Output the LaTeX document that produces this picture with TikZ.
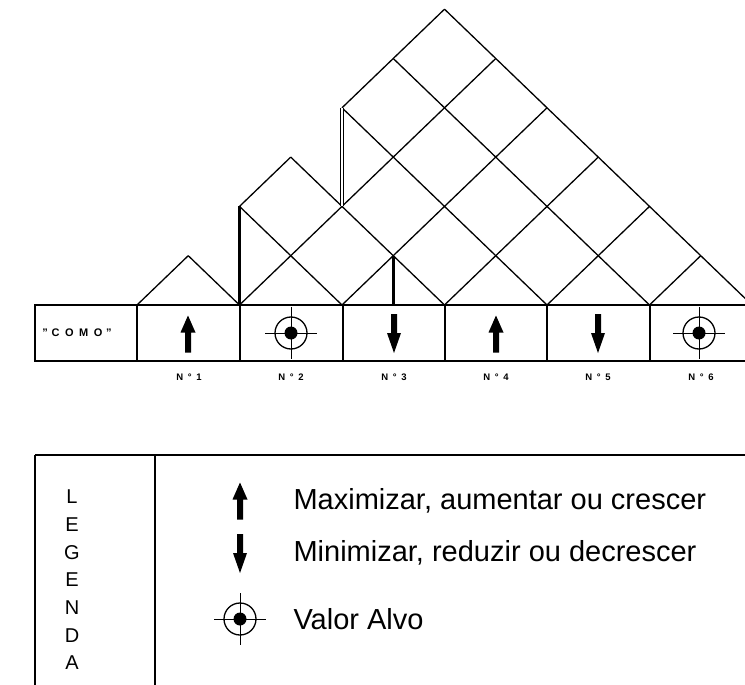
\documentclass[tikz,border=0pt]{standalone}
\usepackage{fontspec}
\setmainfont{Liberation Sans}
\usetikzlibrary{positioning}
\tikzset{
    % Line styles
    roof line/.style={line width=1.3pt},
    cut line/.style={line width=2.8pt},
    split line/.style={double, double distance=1.4pt, line width=0.9pt},
    table line/.style={line width=1.5pt},
    % Text styles
    como text/.style={font=\bfseries\fontsize{11}{13}\selectfont},
    num label/.style={font=\bfseries\fontsize{9.5}{11}\selectfont},
    legend title/.style={align=center, font=\fontsize{20}{27.7}\selectfont},
    legend text/.style={anchor=west, font=\fontsize{29}{32}\selectfont},
    % Symbols
    up mark/.pic={
        \fill (-3,18.5) -- (3,18.5) -- (3,-1.5) -- (7.5,-1.5) -- (0,-18.5)
            -- (-7.5,-1.5) -- (-3,-1.5) -- cycle;
    },
    down mark/.pic={
        \fill (-3,-19) -- (3,-19) -- (3,0) -- (7,0) -- (0,20)
            -- (-7,0) -- (-3,0) -- cycle;
    },
    target mark/.pic={
        \draw[line width=1.3pt] (0,0) circle (16);
        \fill (0,0) circle (6.5);
        \draw[line width=1pt] (-26,0) -- (26,0) (0,-26) -- (0,26);
    }
}

\begin{document}
\begin{tikzpicture}[x=1pt, y=-1pt]
    \useasboundingbox (0,0) rectangle (745,685);

    % Roof
    \begin{scope}[shift={(137,305)}, x=51.25pt, y=49.3pt]
        \foreach \a/\b/\c/\d in {0/0/1/1, 2/0/7/5, 4/0/8/4, 6/0/9/3,
                8/0/10/2, 10/0/11/1, 2/2/3/3, 4/4/6/6,
                1/1/2/0, 2/2/4/0, 3/3/6/0, 4/4/8/0, 5/5/10/0, 6/6/12/0}
            \draw[roof line] (\a,\b) -- (\c,\d);
        \draw[cut line] (2,0) -- (2,2);
        \draw[cut line] (5,0) -- (5,1);
        \draw[split line] (4,2) -- (4,4);
    \end{scope}

    % Table
    \draw[table line] (35,305) rectangle (752,361);
    \foreach \x in {137,343,445,650}
        \draw[table line] (\x,305) -- (\x,361);
    \foreach \x in {240,547}
        \draw[cut line] (\x,305) -- (\x,361);

    \node[como text] (como) at (77,333) {"\,\,C\,\,\,O\,\,\,M\,\,\,O\,\,"};
    \pic at (188,334) {up mark};
    \pic at (291,333) {target mark};
    \pic at (394,333) {down mark};
    \pic at (496,334) {up mark};
    \pic at (598,333) {down mark};
    \pic at (699,333) {target mark};

    \foreach \n/\x in {1/189,2/291,3/394,4/496,5/598,6/701}
        \node[num label] (num\n) at (\x,377) {N\,\,\,°\,\,\,\n};

    % Legend
    \draw[table line] (35,455) -- (752,455);
    \draw[table line] (35,455) -- (35,700);
    \draw[cut line] (155,455) -- (155,700);

    \node[legend title] (legenda) at (72,580) {L\\E\\G\\E\\N\\D\\A};

    \pic at (240,501) {up mark};
    \pic at (240,553) {down mark};
    \begin{scope}[shift={(240,619)}, scale=0.85]
        \pic {target mark};
    \end{scope}

    \node[legend text] (maxtext) at (290,501) {Maximizar, aumentar ou crescer};
    \node[legend text] (mintext) at (290,553) {Minimizar, reduzir ou decrescer};
    \node[legend text] (alvotext) at (290,619) {Valor Alvo};
\end{tikzpicture}
\end{document}
